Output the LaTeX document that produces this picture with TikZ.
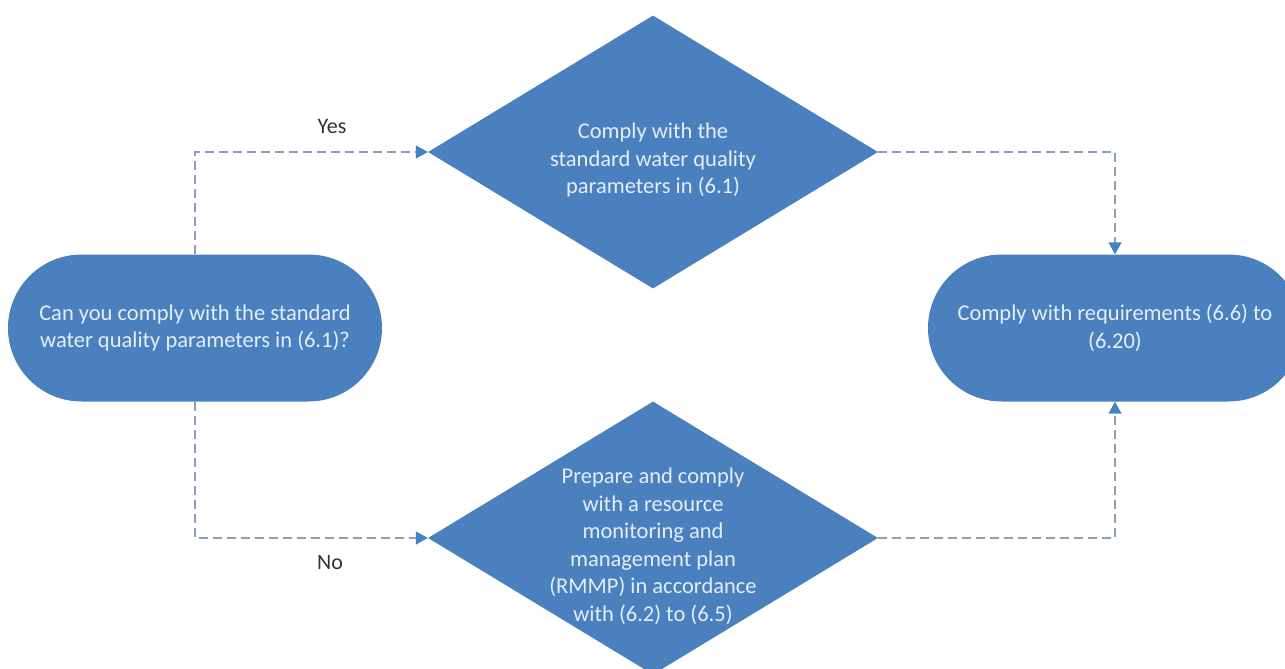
\documentclass[tikz,border=0pt]{standalone}
\usepackage{fontspec}
\setmainfont{Carlito}
\usetikzlibrary{shapes.geometric,arrows.meta}
\definecolor{boxblue}{RGB}{74,128,189}
\definecolor{txtblue}{RGB}{226,238,250}
\definecolor{lineblue}{RGB}{138,158,185}
\definecolor{tipblue}{RGB}{70,130,195}
\begin{document}
\begin{tikzpicture}[x=1pt,y=-1pt,
  stadium/.style={draw=none,fill=boxblue,rounded corners=73.5pt,minimum width=374pt,minimum height=147pt,text=txtblue,font=\fontsize{22.5}{27.5}\selectfont,align=center,inner sep=0pt},
  dia/.style={diamond,draw=none,fill=boxblue,inner sep=0pt,minimum width=450pt,minimum height=273pt,aspect=1.65},
  dtext/.style={text=txtblue,font=\fontsize{22.5}{27.5}\selectfont,align=center,inner sep=0pt,yshift=-8pt},
  flow/.style={draw=lineblue,line width=1.6pt,dash pattern=on 9pt off 5pt,-{Triangle[length=12pt,width=13pt,color=tipblue]}},
  lbl/.style={text=black!80,font=\fontsize{22}{24}\selectfont}]
\useasboundingbox (0,0) rectangle (1285,669);
\clip (0,0) rectangle (1285,669);
\node[stadium] (ask) at (195,328) {Can you comply with the standard\\water quality parameters in (6.1)?};
\node[dia,label={[dtext]center:{Comply with the\\standard water quality\\parameters in (6.1)}}] (yes) at (653,152) {};
\node[dia,label={[dtext]center:{Prepare and comply\\with a resource\\monitoring and\\management plan\\(RMMP) in accordance\\with (6.2) to (6.5)}}] (no) at (653,538) {};
\node[stadium] (req) at (1115,328) {Comply with requirements (6.6) to\\(6.20)};
\draw[flow] (ask.north) |- (yes.west);
\draw[flow] (ask.south) |- (no.west);
\draw[flow] (yes.east) -| (req.north);
\draw[flow] (no.east) -| (req.south);
\node[lbl] (ylbl) at (332,127) {Yes};
\node[lbl] (nlbl) at (330,563) {No};
\end{tikzpicture}
\end{document}
